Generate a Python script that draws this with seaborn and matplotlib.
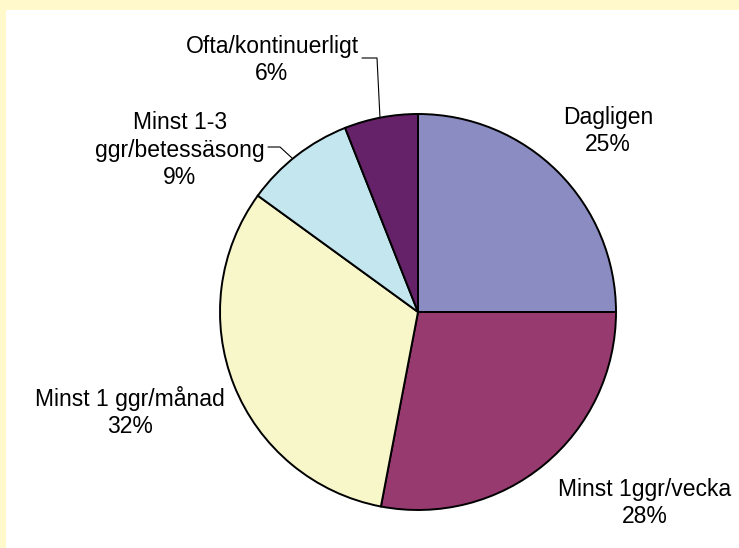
import matplotlib.pyplot as plt
import seaborn as sns

# ---------------- DATA ----------------
categories = ["Dagligen", "Minst 1ggr/vecka", "Minst 1 ggr/månad",
              "Minst 1-3\nggr/betessäsong", "Ofta/kontinuerligt"]
shares = [25, 28, 32, 9, 6]
slice_colors = ["#8A8CC2", "#963A6F", "#F8F7C9", "#C3E6EF", "#662268"]

# ---------------- SETTINGS ----------------
sns.set_theme(style="white")
plt.rcParams["font.family"] = ["Liberation Sans", "DejaVu Sans"]

W, H = 739, 548
fig = plt.figure(figsize=(W / 100, H / 100), dpi=100, facecolor="#FFF9CC")

# white plot area inside the yellow frame (pixel coordinates, y up)
left, top = 6, 10
ax = fig.add_axes([left / W, 0, (W - left) / W, (H - top) / H])

palette = sns.color_palette(slice_colors)
ax.pie(shares, colors=palette, startangle=90, counterclock=False,
       center=(418, H - 312), radius=198,
       wedgeprops=dict(edgecolor="black", linewidth=1.4))

# pie() switches the frame off, which also hides the white background
ax.set_frame_on(True)
ax.set_facecolor("white")
for s in ax.spines.values():
    s.set_visible(False)
ax.set_xlim(left, W)
ax.set_ylim(0, H - top)
ax.set_aspect("equal")
ax.set_xticks([])
ax.set_yticks([])

# ---------------- LABELS ----------------
# label centre positions in pixel coords (x, y from top)
label_pos = [(608, 131), (645, 503), (130, 412), (180, 150), (272, 60)]
for cat, val, (px, py) in zip(categories, shares, label_pos):
    ax.text(px, H - py, f"{cat}\n{val}%", ha="center", va="center",
            fontsize=16.5, color="black", linespacing=1.25)

# leader lines for the two small slices
leaders = [
    [(362, 58), (377, 58), (380, 118)],
    [(268, 147), (280, 147), (292, 158)],
]
for pts in leaders:
    xs = [p[0] for p in pts]
    ys = [H - p[1] for p in pts]
    ax.plot(xs, ys, color="black", linewidth=0.8)

plt.savefig("out.png", dpi=100, facecolor=fig.get_facecolor())
